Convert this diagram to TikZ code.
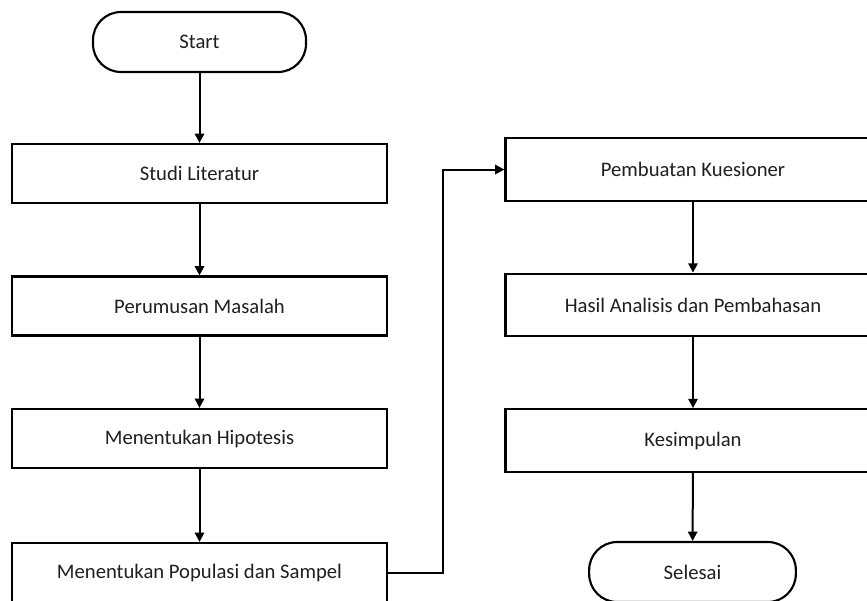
\documentclass[tikz,border=0pt]{standalone}
\usepackage{fontspec}
\setmainfont{Carlito}
\usetikzlibrary{arrows.meta}
\begin{document}
\begin{tikzpicture}[x=0.75pt,y=-0.75pt,
  every node/.style={font=\fontsize{15.5pt}{18pt}\selectfont, text=black!88},
  procbox/.style={draw=black, line width=1.6pt, rectangle, minimum width=281.25pt, inner sep=0pt},
  lbox/.style={procbox, minimum height=44.25pt},
  rbox/.style={procbox, minimum height=47pt},
  termbox/.style={draw=black, line width=1.6pt, rectangle, rounded corners=21pt, minimum height=45pt, inner sep=0pt},
  flow/.style={line width=1.5pt, -{Triangle[length=7pt,width=7pt]}}]
\useasboundingbox (0,0) rectangle (867,600);
\clip (0,0) rectangle (867,600);
\node[termbox, minimum width=159.75pt] (start) at (199.5,42) {Start};
\node[lbox] (studi) at (199.5,173.5) {Studi Literatur};
\node[lbox] (rumus) at (199.5,306) {Perumusan Masalah};
\node[lbox] (hipo) at (199.5,438.5) {Menentukan Hipotesis};
\node[lbox] (popu) at (199.5,572.5) {Menentukan Populasi dan Sampel};
\node[rbox] (kues) at (693,169.5) {Pembuatan Kuesioner};
\node[rbox] (hasil) at (693,305) {Hasil Analisis dan Pembahasan};
\node[rbox] (simp) at (693,440.5) {Kesimpulan};
\node[termbox, minimum width=155pt] (end) at (692.5,572) {Selesai};
\coordinate (bend) at (443,572.5);
\draw[flow] (start) -- (studi);
\draw[flow] (studi) -- (rumus);
\draw[flow] (rumus) -- (hipo);
\draw[flow] (hipo) -- (popu);
\draw[flow] (popu.east) -- (bend) |- (kues.west);
\draw[flow] (kues) -- (hasil);
\draw[flow] (hasil) -- (simp);
\draw[flow] (simp) -- (end);
\end{tikzpicture}
\end{document}
